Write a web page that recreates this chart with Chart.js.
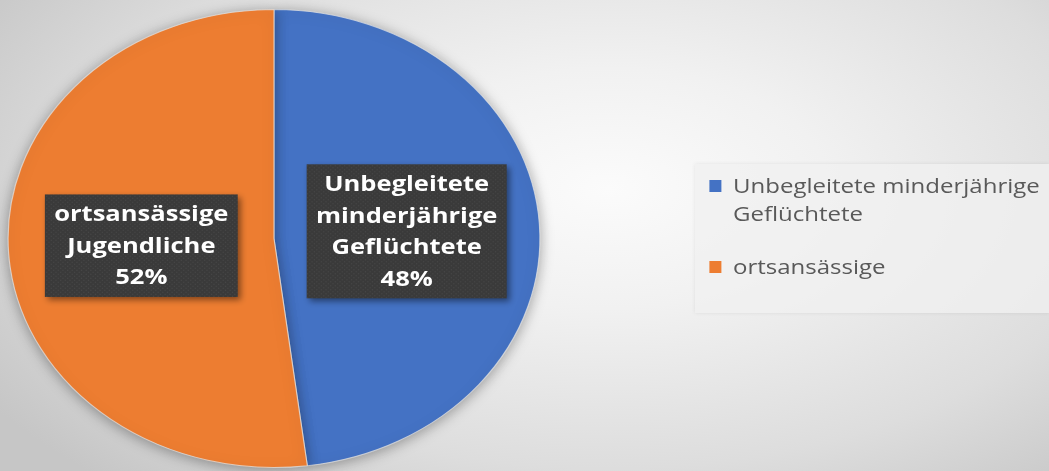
<!DOCTYPE html>
<html>
<head>
<meta charset="utf-8">
<script src="https://cdn.jsdelivr.net/npm/chart.js@4.4.1/dist/chart.umd.min.js"></script>
<style>
  html, body { margin:0; padding:0; }
  body {
    width:1049px; height:471px; overflow:hidden; position:relative;
    background: radial-gradient(ellipse 70% 85% at 58% 40%, #fbfbfb 0%, #f1f1f1 30%, #dddddd 70%, #c6c6c6 100%);
  }
  #wrap { position:absolute; left:0; top:0; width:1049px; height:471px; }
  #legend {
    position:absolute; left:695px; top:164px; width:354px; height:149px;
    background: rgba(240,240,240,0.75);
    box-shadow: 0 0 4px rgba(0,0,0,0.08);
  }
  #lgin {
    position:absolute; left:0; top:8px; width:300px;
    transform: scaleX(1.2); transform-origin: 0 0;
    font-family: "Open Sans", "Liberation Sans", sans-serif;
    font-size: 20px; color:#595959; line-height:28px;
  }
  .item { position:relative; padding-left:31.7px; margin-bottom:25px; }
  .sw { position:absolute; left:11.7px; top:8px; width:10.5px; height:12px; }
</style>
</head>
<body>
<div id="wrap"><canvas id="c"></canvas></div>
<div id="legend"><div id="lgin"></div></div>
<script>
const legendLabels = ["Unbegleitete minderjährige Geflüchtete", "ortsansässige"];
const dataLabels = [["Unbegleitete", "minderjährige", "Geflüchtete"], ["ortsansässige", "Jugendliche"]];
const values = [48, 52];
const colors = ["#4472C4", "#ED7D31"];

const SX = 266.5 / 229.5; // horizontal stretch of the pie (elliptical in reference)

function makePattern(ctx) {
  const p = document.createElement('canvas');
  p.width = 4; p.height = 4;
  const pc = p.getContext('2d');
  pc.fillStyle = '#3a3a3a'; pc.fillRect(0,0,4,4);
  pc.fillStyle = '#4a4a4a'; pc.fillRect(0,0,1,1); pc.fillRect(2,2,1,1);
  return ctx.createPattern(p, 'repeat');
}

const stretchPlugin = {
  id: 'stretch',
  beforeDatasetsDraw(chart) {
    const ctx = chart.ctx;
    const meta = chart.getDatasetMeta(0);
    const cx = meta.data[0].x, cy = meta.data[0].y;
    ctx.save();
    ctx.translate(cx, cy);
    ctx.scale(SX, 1);
    ctx.translate(-cx, -cy);
    ctx.shadowColor = 'rgba(0,0,0,0.35)';
    ctx.shadowBlur = 14;
    ctx.shadowOffsetX = 0;
    ctx.shadowOffsetY = 2;
  },
  afterDatasetsDraw(chart) {
    chart.ctx.restore();
  }
};

const labelPlugin = {
  id: 'boxLabels',
  afterDatasetsDraw(chart) {
    const ctx = chart.ctx;
    const meta = chart.getDatasetMeta(0);
    const total = values.reduce((a,b)=>a+b,0);
    const pattern = makePattern(ctx);
    const lh = 31.5, padX = 8, padY = 4;
    meta.data.forEach((arc, i) => {
      const p = arc.tooltipPosition();
      const x = arc.x + (p.x - arc.x) * SX;
      const y = p.y;
      ctx.save();
      ctx.translate(x, y);
      ctx.scale(SX, 1);
      ctx.font = 'bold 22px "Open Sans", "Liberation Sans", sans-serif';
      const lines = dataLabels[i].concat([Math.round(values[i] / total * 100) + '%']);
      let w = 0;
      lines.forEach(l => { w = Math.max(w, ctx.measureText(l).width); });
      const bw = w + 2 * padX, bh = lines.length * lh + 2 * padY;
      const bx = -bw / 2, by = -bh / 2;
      ctx.save();
      ctx.shadowColor = 'rgba(0,0,0,0.45)';
      ctx.shadowBlur = 6;
      ctx.shadowOffsetX = 3;
      ctx.shadowOffsetY = 3;
      ctx.fillStyle = pattern;
      ctx.fillRect(bx, by, bw, bh);
      ctx.restore();
      ctx.fillStyle = '#ffffff';
      ctx.textAlign = 'center';
      ctx.textBaseline = 'middle';
      lines.forEach((l, k) => {
        ctx.fillText(l, 0, by + padY + lh * k + lh / 2 + 1);
      });
      ctx.restore();
    });
  }
};

const chart = new Chart(document.getElementById('c'), {
  type: 'pie',
  data: {
    labels: legendLabels,
    datasets: [{
      data: values,
      backgroundColor: colors,
      borderColor: 'rgba(230,230,230,0.7)',
      borderWidth: 1
    }]
  },
  options: {
    responsive: true,
    maintainAspectRatio: false,
    animation: false,
    layout: { padding: { left: 0, right: 501, top: 9, bottom: 3 } },
    plugins: { legend: { display: false }, tooltip: { enabled: false } }
  },
  plugins: [stretchPlugin, labelPlugin]
});

const lg = document.getElementById('lgin');
chart.data.labels.forEach((lab, i) => {
  const d = document.createElement('div');
  d.className = 'item';
  const s = document.createElement('span');
  s.className = 'sw';
  s.style.background = colors[i];
  d.appendChild(s);
  d.appendChild(document.createTextNode(lab));
  lg.appendChild(d);
});
</script>
</body>
</html>
